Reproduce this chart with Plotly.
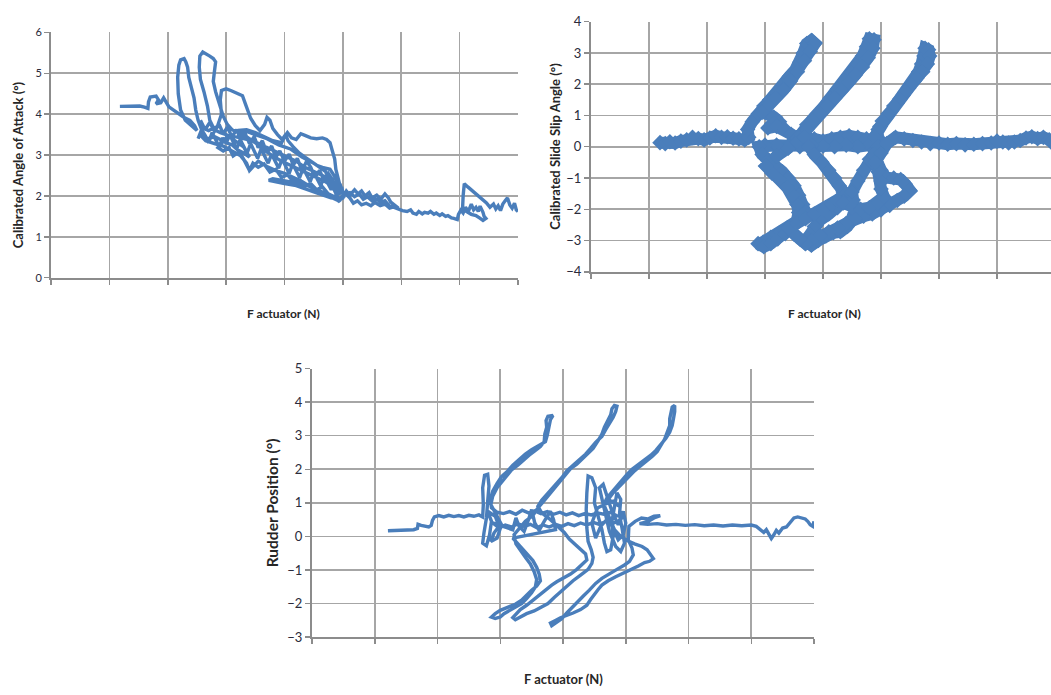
import plotly.graph_objects as go

# ---------------- data (x in grid units of F actuator, no labels shown) ----------------
aoa_pts = [
    (1.18,4.19),(1.30,4.20),(1.42,4.21),(1.52,4.20),(1.60,4.17),(1.66,4.14),(1.67,4.30),(1.70,4.42),(1.80,4.44),(1.84,4.35),
    (1.80,4.25),(1.88,4.28),(1.93,4.40),(1.97,4.30),(2.02,4.18),(2.10,4.10),(2.18,4.02),(2.28,3.92),(2.38,3.85),(2.46,3.72),(2.50,3.60),
    (2.42,3.70),(2.30,3.85),(2.22,4.10),(2.18,4.50),(2.17,4.90),(2.19,5.20),(2.22,5.33),(2.28,5.36),(2.31,5.28),(2.34,5.15),
    (2.36,4.90),(2.40,4.65),(2.45,4.40),(2.48,4.10),(2.52,3.85),(2.58,3.62),(2.62,3.45),(2.70,3.40),(2.80,3.45),(2.90,3.38),
    (3.00,3.30),(3.10,3.25),(3.20,3.12),(3.30,3.05),(3.40,2.95),
    (3.30,3.20),(3.15,3.35),(3.00,3.50),(2.90,3.55),(2.80,3.62),(2.72,3.85),(2.68,4.20),(2.62,4.55),(2.56,4.85),(2.54,5.15),
    (2.55,5.42),(2.60,5.52),(2.66,5.48),(2.72,5.42),(2.78,5.36),(2.82,5.28),(2.80,5.05),(2.78,4.80),(2.82,4.55),(2.88,4.25),
    (2.95,3.95),(3.02,3.75),(3.10,3.62),(3.20,3.55),(3.35,3.45),(3.50,3.30),(3.65,3.12),(3.80,2.98),(3.95,2.85),(4.10,2.75),
    (4.25,2.65),(4.40,2.55),(4.55,2.45),(4.70,2.35),(4.85,2.20),(4.95,2.10),(5.05,2.05),
    (4.90,1.90),(4.75,2.00),(4.60,2.10),(4.45,2.22),(4.30,2.35),(4.15,2.45),(4.00,2.55),(3.85,2.62),(3.70,2.72),(3.55,2.85),
    (3.45,2.70),(3.40,2.62),(3.35,2.80),(3.25,2.98),(3.10,3.10),(2.95,3.22),(2.80,3.28),(2.65,3.35),(2.55,3.50),
    (2.52,3.40),(2.58,3.62),(2.64,3.48),(2.70,3.30),(2.76,3.55),(2.82,3.38),(2.88,3.20),(2.94,3.42),(3.00,3.28),(3.06,3.50),
    (3.12,3.32),(3.18,3.15),(3.24,3.38),(3.30,3.22),(3.36,3.05),(3.42,3.28),(3.48,3.10),(3.54,2.92),(3.60,3.15),(3.66,2.98),
    (3.72,2.80),(3.78,3.02),(3.84,2.85),(3.90,2.68),(3.96,2.90),(4.02,2.72),(4.08,2.55),(4.14,2.78),(4.20,2.62),(4.26,2.45),
    (4.32,2.68),(4.38,2.50),(4.44,2.35),(4.50,2.58),(4.56,2.40),(4.62,2.25),(4.68,2.48),(4.74,2.30),(4.80,2.15),(4.86,2.35),
    (4.92,2.05),(4.98,2.22),(5.02,1.95),
    (4.95,2.30),(4.88,2.12),(4.82,2.40),(4.75,2.55),(4.68,2.38),(4.60,2.62),(4.52,2.45),(4.45,2.70),(4.38,2.85),(4.30,2.62),
    (4.22,2.92),(4.15,2.75),(4.08,3.02),(4.00,2.85),(3.92,3.10),(3.85,2.95),(3.78,3.22),(3.70,3.05),(3.62,3.35),(3.55,3.18),
    (3.48,3.45),(3.40,3.28),(3.32,3.55),(3.25,3.40),(3.18,3.62),(3.10,3.45),(3.02,3.68),(2.95,3.52),(2.88,3.75),(2.80,3.58),
    (2.72,3.80),(2.64,3.62),(2.56,3.85),(2.62,3.65),
    (2.70,3.60),(2.85,3.70),(2.92,4.00),(2.90,4.35),(2.92,4.58),(3.00,4.62),(3.08,4.58),(3.18,4.52),(3.28,4.45),(3.33,4.25),
    (3.38,4.05),(3.42,3.90),(3.50,3.72),(3.58,3.60),(3.66,3.75),(3.70,3.92),(3.75,3.85),(3.80,3.65),(3.88,3.50),(3.96,3.38),
    (4.02,3.50),(4.06,3.35),(4.15,3.20),(4.25,3.05),(4.35,2.95),(4.45,2.85),(4.55,2.75),(4.65,2.70),(4.78,2.65),(4.85,2.50),
    (4.90,2.35),(4.95,2.20),
    (4.80,2.40),(4.65,2.50),(4.50,2.60),(4.35,2.70),(4.20,2.85),(4.05,2.95),(3.90,3.05),(3.75,3.15),(3.60,3.25),(3.45,3.35),
    (3.30,3.40),(3.15,3.45),(3.00,3.42),
    (2.92,3.30),(2.86,3.18),(2.95,3.10),(3.05,3.18),(3.12,2.98),(3.22,3.08),(3.30,2.90),(3.40,2.62),(3.46,2.80),(3.55,2.70),
    (3.65,2.78),(3.75,2.58),(3.85,2.65),(3.95,2.45),(4.05,2.52),(4.15,2.35),(4.25,2.42),(4.35,2.25),(4.45,2.30),(4.55,2.15),
    (4.65,2.22),(4.75,2.05),(4.85,1.98),(4.95,1.85),
    (4.70,2.60),(4.50,2.80),(4.30,2.95),(4.10,3.15),(3.90,3.25),(3.70,3.40),(3.50,3.50),(3.35,3.58),(3.20,3.60),
    (3.35,3.62),(3.50,3.55),(3.65,3.45),(3.80,3.35),(3.95,3.30),(4.00,3.45),(4.05,3.55),(4.12,3.42),(4.20,3.38),
    (4.28,3.52),(4.35,3.48),(4.45,3.42),(4.55,3.40),(4.65,3.42),(4.72,3.38),(4.78,3.30),(4.82,3.10),(4.86,2.90),(4.88,2.65),
    (4.92,2.40),(4.96,2.20),(5.00,2.10),
    (4.80,1.95),(4.60,2.05),(4.40,2.15),(4.20,2.25),(4.00,2.30),(3.85,2.34),(3.73,2.38),(3.80,2.42),(4.00,2.38),(4.20,2.32),
    (4.40,2.25),(4.60,2.12),(4.80,2.00),(4.92,1.88),(5.00,1.95),(5.06,2.12),(5.12,2.02),(5.20,2.15),(5.26,2.05),(5.32,2.12),
    (5.38,2.00),(5.45,2.08),(5.50,1.95),(5.58,2.02),(5.65,1.92),(5.72,2.05),(5.78,1.95),(5.82,1.85),(5.88,1.78),(5.95,1.70),
    (5.88,1.74),(5.80,1.70),(5.72,1.80),(5.64,1.76),(5.55,1.84),(5.48,1.76),(5.40,1.82),(5.32,1.78),(5.25,1.88),(5.18,1.82),
    (5.12,1.95),(5.05,2.05),(5.12,2.08),(5.20,1.98),(5.28,2.05),(5.35,1.92),(5.42,1.98),(5.50,1.88),(5.58,1.92),(5.65,1.85),
    (5.72,1.88),(5.80,1.75),(5.88,1.72),(5.95,1.68),(6.02,1.64),(6.10,1.62),(6.16,1.66),(6.20,1.58),(6.26,1.55),(6.30,1.62),
    (6.36,1.56),(6.40,1.60),(6.46,1.58),(6.50,1.62),(6.56,1.55),(6.60,1.58),(6.66,1.52),(6.70,1.56),(6.76,1.50),(6.80,1.52),
    (6.86,1.46),(6.90,1.45),(6.96,1.42),(6.98,1.55),(7.02,1.65),(7.06,1.58),(7.10,1.72),(7.15,1.62),(7.20,1.80),(7.24,1.66),
    (7.28,1.72),(7.32,1.62),(7.35,1.75),(7.40,1.60),(7.42,1.50),(7.45,1.45),(7.40,1.40),(7.34,1.46),(7.28,1.52),(7.20,1.55),
    (7.14,1.60),(7.10,1.62),(7.05,1.68),(7.06,2.00),(7.08,2.30),(7.14,2.22),(7.20,2.15),(7.26,2.08),(7.30,2.02),(7.36,1.96),
    (7.40,1.92),(7.46,1.83),(7.52,1.72),(7.58,1.80),(7.62,1.68),(7.66,1.76),(7.70,1.64),(7.74,1.80),(7.78,1.88),(7.82,1.95),
    (7.86,1.78),(7.90,1.70),(7.94,1.82),(7.97,1.66),(8.00,1.62),
]

slip_pts = [
    (1.19,0.13),(1.28,0.10),(1.36,0.16),(1.45,0.12),(1.55,0.18),(1.65,0.22),(1.75,0.30),(1.85,0.26),(1.95,0.22),(2.05,0.28),
    (2.15,0.35),(2.25,0.30),(2.35,0.32),(2.45,0.27),(2.55,0.25),(2.65,0.22),(2.72,0.30),
    (2.70,0.55),(2.78,0.80),(2.88,1.05),(2.98,1.30),(3.08,1.50),(3.20,1.72),(3.32,2.00),(3.42,2.25),(3.52,2.45),(3.60,2.70),
    (3.66,3.00),(3.72,3.30),(3.80,3.40),(3.86,3.30),(3.78,3.05),(3.68,2.75),(3.56,2.40),(3.44,2.10),(3.32,1.82),(3.18,1.55),
    (3.05,1.30),(2.95,1.10),(3.15,0.95),(3.25,0.80),(3.15,0.75),(3.05,0.60),(3.20,0.65),(3.35,0.55),(3.45,0.40),(3.55,0.28),
    (3.70,0.20),(3.85,0.25),(4.00,0.18),(4.15,0.25),(4.30,0.30),(4.45,0.35),(4.60,0.30),(4.75,0.25),(4.90,0.20),(5.00,0.15),
    (4.80,0.05),(4.60,0.00),(4.40,0.05),(4.20,0.00),(4.00,0.02),(3.80,0.05),(3.60,0.00),(3.40,0.03),(3.20,0.05),(3.00,0.05),(2.90,0.00),
    (2.95,-0.25),(3.05,-0.45),(3.18,-0.62),(3.30,-0.80),(3.40,-1.00),(3.50,-1.25),(3.58,-1.55),(3.65,-1.85),(3.70,-2.10),(3.62,-2.30),
    (3.50,-2.45),(3.38,-2.60),(3.25,-2.75),(3.10,-2.90),(2.97,-3.05),(2.88,-3.10),(2.98,-3.20),(3.10,-3.10),(3.22,-2.95),(3.35,-2.78),
    (3.48,-2.55),(3.55,-2.35),(3.58,-2.10),(3.55,-1.85),(3.48,-1.55),(3.38,-1.30),(3.25,-1.05),(3.12,-0.85),(3.02,-0.62),
    (3.20,-0.30),(3.40,-0.05),(3.55,0.15),(3.62,0.40),(3.72,0.70),(3.85,0.95),(4.00,1.25),(4.12,1.55),(4.25,1.85),(4.38,2.12),
    (4.50,2.38),(4.60,2.62),(4.68,2.90),(4.75,3.20),(4.80,3.45),(4.88,3.42),(4.86,3.15),(4.78,2.85),(4.68,2.55),(4.56,2.30),
    (4.44,2.05),(4.32,1.80),(4.20,1.55),(4.08,1.30),(3.95,1.05),(3.82,0.82),(3.72,0.55),(3.68,0.30),
    (3.75,0.00),(3.85,-0.25),(3.98,-0.50),(4.10,-0.75),(4.20,-1.00),(4.28,-1.25),(4.35,-1.45),(4.40,-1.50),(4.35,-1.75),(4.25,-1.95),
    (4.10,-2.15),(3.95,-2.35),(3.85,-2.55),(3.78,-2.80),(3.72,-3.05),(3.80,-3.15),(3.92,-3.00),(4.05,-2.85),(4.18,-2.75),(4.30,-2.72),
    (4.42,-2.55),(4.50,-2.30),(4.55,-2.00),(4.52,-1.70),(4.50,-1.45),
    (4.60,-1.10),(4.70,-0.75),(4.80,-0.40),(4.90,-0.10),(5.00,0.15),(4.92,0.40),(4.98,0.65),(5.08,0.90),(5.18,1.15),(5.28,1.40),
    (5.38,1.65),(5.48,1.88),(5.58,2.12),(5.65,2.40),(5.70,2.65),(5.74,2.90),(5.76,3.15),(5.82,3.10),(5.84,2.90),(5.80,2.65),
    (5.72,2.40),(5.62,2.20),(5.52,1.98),(5.42,1.75),(5.32,1.52),(5.22,1.30),(5.12,1.05),(5.02,0.82),(4.95,0.55),(4.90,0.30),
    (4.95,0.00),(4.88,-0.25),(4.92,-0.50),(5.00,-0.75),(5.08,-0.98),(5.22,-1.00),(5.34,-1.05),(5.42,-1.20),(5.50,-1.40),(5.40,-1.58),
    (5.28,-1.72),(5.15,-1.88),(5.00,-2.02),(4.85,-2.15),(4.70,-2.22),(4.55,-2.30),(4.40,-2.45),(4.25,-2.60),(4.10,-2.72),(3.95,-2.85),
    (3.80,-3.00),(3.70,-3.10),(3.60,-2.95),(3.50,-2.80),(3.40,-2.60),(3.55,-2.45),(3.70,-2.30),(3.85,-2.15),(4.00,-2.00),(4.15,-1.85),
    (4.25,-1.70),(4.35,-1.80),(4.50,-1.95),(4.65,-2.00),(4.80,-1.95),(4.95,-1.80),(5.05,-1.60),(5.00,-1.35),(5.00,-1.10),(4.95,-0.80),
    (4.90,-0.50),(5.00,-0.20),
    (5.10,0.10),(5.25,0.30),(5.40,0.25),(5.55,0.20),(5.70,0.15),(5.85,0.10),(6.00,0.12),(6.15,0.08),(6.30,0.10),(6.45,0.06),
    (6.60,0.08),(6.75,0.10),(6.90,0.12),(7.00,0.18),(7.10,0.15),(7.20,0.12),(7.30,0.15),(7.40,0.20),(7.50,0.28),(7.60,0.32),
    (7.70,0.26),(7.80,0.30),(7.90,0.22),(7.93,0.15),
]

rudder_pts = [
    (1.21,0.17),(1.35,0.18),(1.50,0.19),(1.62,0.20),(1.68,0.24),(1.69,0.36),(1.74,0.33),(1.80,0.30),(1.86,0.28),(1.90,0.33),
    (1.92,0.48),(1.95,0.58),(2.02,0.62),(2.10,0.58),(2.18,0.63),(2.26,0.59),(2.34,0.62),(2.42,0.58),(2.50,0.63),(2.58,0.60),
    (2.66,0.64),(2.72,0.58),
    (2.73,0.95),(2.72,1.45),(2.75,1.82),(2.80,1.85),(2.82,1.50),(2.80,1.05),(2.78,0.55),(2.74,0.10),(2.72,-0.20),(2.78,-0.28),
    (2.83,0.05),(2.86,0.45),(2.80,0.75),(2.92,0.60),(2.98,0.30),(2.90,0.10),(2.85,-0.15),(2.95,-0.05),(3.02,0.35),
    (2.85,0.95),(2.88,1.20),(2.95,1.45),(3.02,1.62),(3.10,1.80),(3.18,1.98),(3.28,2.12),(3.38,2.30),(3.46,2.42),(3.55,2.55),
    (3.64,2.68),(3.70,2.82),(3.71,3.05),(3.74,3.25),(3.73,3.45),(3.76,3.58),(3.84,3.60),(3.80,3.48),(3.78,3.25),(3.75,3.02),
    (3.72,2.82),(3.62,2.72),(3.50,2.58),(3.40,2.45),(3.30,2.30),(3.20,2.12),(3.12,1.95),(3.02,1.78),(2.95,1.58),(2.88,1.35),
    (2.84,1.10),(2.86,0.85),
    (2.95,0.72),(3.05,0.68),(3.15,0.74),(3.25,0.66),(3.35,0.78),(3.45,0.70),(3.55,0.76),(3.65,0.68),(3.75,0.74),(3.85,0.66),
    (3.95,0.72),(4.05,0.64),(4.15,0.70),(4.25,0.62),(4.35,0.68),(4.45,0.64),(4.55,0.70),(4.65,0.66),(4.75,0.72),(4.85,0.62),(4.97,0.60),
    (4.88,0.45),(4.78,0.38),(4.68,0.44),(4.58,0.36),(4.48,0.42),(4.38,0.34),(4.28,0.40),(4.18,0.32),(4.08,0.38),(3.98,0.30),
    (3.88,0.36),(3.78,0.28),(3.68,0.34),(3.58,0.26),(3.48,0.36),(3.38,0.30),(3.28,0.38),(3.18,0.28),(3.08,0.34),(2.98,0.26),(2.88,0.40),
    (3.20,0.20),(3.25,0.55),(3.30,0.30),(3.38,0.15),(3.45,0.50),(3.50,0.80),(3.55,0.40),(3.62,0.18),(3.70,0.45),(3.80,0.75),
    (3.85,0.50),(3.88,0.20),
    (3.20,-0.05),(3.28,-0.22),(3.36,-0.40),(3.44,-0.55),(3.52,-0.72),(3.58,-0.92),(3.62,-1.12),(3.64,-1.32),(3.58,-1.48),(3.50,-1.60),
    (3.42,-1.75),(3.34,-1.90),(3.24,-2.02),(3.12,-2.12),(3.00,-2.20),(2.92,-2.30),(2.86,-2.40),(2.92,-2.44),(3.00,-2.40),(3.06,-2.30),
    (3.14,-2.22),(3.24,-2.12),(3.34,-2.00),(3.42,-1.85),(3.50,-1.68),(3.56,-1.50),(3.58,-1.28),(3.54,-1.05),(3.48,-0.82),(3.40,-0.62),
    (3.32,-0.42),(3.25,-0.22),(3.22,0.05),
    (3.40,0.45),(3.52,0.62),(3.60,0.85),(3.68,1.02),(3.76,1.20),(3.82,1.35),(3.90,1.52),(3.96,1.68),(4.04,1.85),(4.12,2.02),
    (4.22,2.15),(4.32,2.32),(4.40,2.48),(4.48,2.62),(4.56,2.85),(4.62,3.05),(4.66,3.25),(4.72,3.45),(4.76,3.62),(4.78,3.80),
    (4.82,3.90),(4.86,3.88),(4.84,3.72),(4.80,3.55),(4.74,3.38),(4.68,3.18),(4.62,2.98),(4.52,2.80),(4.44,2.62),(4.36,2.45),
    (4.26,2.28),(4.16,2.10),(4.06,1.95),(3.98,1.75),(3.90,1.58),(3.82,1.42),(3.74,1.25),(3.66,1.08),(3.60,0.90),(3.66,0.70),
    (3.80,0.50),(3.92,0.30),(4.02,0.12),(4.10,-0.08),(4.18,-0.22),(4.28,-0.38),(4.36,-0.52),(4.38,-0.70),(4.30,-0.85),(4.22,-0.98),
    (4.12,-1.12),(4.02,-1.22),(3.90,-1.35),(3.82,-1.45),(3.72,-1.60),(3.62,-1.75),(3.52,-1.92),(3.42,-2.05),(3.32,-2.18),(3.24,-2.32),
    (3.20,-2.42),(3.24,-2.48),(3.32,-2.40),(3.42,-2.30),(3.54,-2.22),(3.64,-2.12),(3.76,-2.00),(3.86,-1.82),(3.96,-1.65),(4.06,-1.48),
    (4.16,-1.32),(4.28,-1.15),(4.40,-0.98),(4.46,-0.80),(4.48,-0.62),(4.45,-0.40),(4.40,-0.15),
    (4.38,0.25),(4.37,0.80),(4.38,1.30),(4.40,1.80),(4.46,1.75),(4.52,1.45),(4.50,1.00),(4.56,0.60),(4.62,0.20),(4.66,-0.20),
    (4.70,-0.45),(4.76,-0.40),(4.80,0.00),(4.78,0.45),(4.82,0.90),(4.86,1.30),(4.92,1.10),(4.90,0.65),(4.94,0.25),(4.98,-0.20),
    (4.92,-0.45),(4.84,-0.30),(4.74,0.15),(4.68,0.65),(4.62,1.05),(4.58,1.45),(4.64,1.55),(4.70,1.20),(4.78,0.75),(4.88,0.35),
    (4.96,0.75),(5.00,0.40),(4.96,0.05),(4.88,-0.10),(4.80,0.25),(4.72,0.55),(4.60,0.30),(4.52,-0.05),(4.46,0.40),(4.55,0.85),
    (4.66,0.95),(4.80,1.05),(4.90,0.90),
    (4.72,1.10),(4.80,1.30),(4.88,1.45),(4.96,1.62),(5.04,1.78),(5.14,1.95),(5.22,2.08),(5.32,2.22),(5.42,2.38),(5.50,2.52),
    (5.56,2.70),(5.62,2.90),(5.66,3.10),(5.70,3.30),(5.70,3.50),(5.72,3.70),(5.74,3.85),(5.78,3.90),(5.78,3.72),(5.76,3.50),
    (5.74,3.30),(5.70,3.10),(5.64,2.92),(5.56,2.74),(5.48,2.56),(5.40,2.42),(5.30,2.28),(5.20,2.14),(5.10,2.00),(5.02,1.85),
    (4.94,1.68),(4.86,1.50),(4.78,1.32),(4.70,1.15),(4.65,0.95),
    (4.82,0.20),(4.92,0.00),(5.02,-0.12),(5.14,-0.22),(5.26,-0.30),(5.34,-0.40),(5.40,-0.55),(5.44,-0.66),(5.38,-0.74),(5.30,-0.78),
    (5.20,-0.88),(5.08,-0.98),(4.96,-1.08),(4.84,-1.20),(4.72,-1.32),(4.62,-1.45),(4.56,-1.58),(4.50,-1.72),(4.44,-1.88),(4.38,-2.05),
    (4.28,-2.18),(4.16,-2.28),(4.06,-2.34),(3.96,-2.42),(3.88,-2.50),(3.80,-2.58),(3.82,-2.66),(3.90,-2.56),(3.98,-2.45),(4.06,-2.28),
    (4.14,-2.12),(4.24,-1.95),(4.32,-1.78),(4.42,-1.60),(4.52,-1.40),(4.62,-1.25),(4.74,-1.10),(4.86,-0.98),(4.98,-0.85),(5.06,-0.74),
    (5.12,-0.55),(5.10,-0.35),(5.04,-0.10),
    (5.05,0.30),(5.15,0.45),(5.25,0.55),(5.35,0.52),(5.45,0.60),(5.55,0.62),(5.45,0.55),(5.35,0.44),(5.22,0.38),(5.35,0.36),
    (5.50,0.38),(5.65,0.34),(5.80,0.36),(5.95,0.33),(6.10,0.35),(6.25,0.32),(6.40,0.34),(6.55,0.31),(6.70,0.34),(6.85,0.32),
    (7.00,0.34),(7.08,0.30),(7.14,0.22),(7.20,0.12),(7.24,0.20),(7.28,0.05),(7.32,-0.06),(7.36,0.05),(7.40,0.18),(7.44,0.10),
    (7.50,0.25),(7.56,0.28),(7.62,0.42),(7.68,0.55),(7.74,0.58),(7.80,0.55),(7.86,0.52),(7.90,0.45),(7.94,0.35),(7.98,0.30),(8.00,0.45),
]

y_titles = ["Calibrated Angle of Attack (°)", "Calibrated Slide Slip Angle (°)", "Rudder Position (°)"]
x_title = "F actuator (N)"

# ---------------- layout helpers ----------------
W, H = 1051, 695
BLUE = "#4A7EBB"
FONT = "Lato, 'Liberation Sans', sans-serif"

def fx(p):
    return p / W

def fy(p):
    return 1 - p / H

fig = go.Figure()

def add_line(pts, xa, ya, width, marker=False):
    xs = [p[0] for p in pts]
    ys = [p[1] for p in pts]
    kw = dict(mode="lines")
    if marker:
        kw = dict(mode="lines+markers", marker=dict(symbol="diamond", size=12, color=BLUE))
    fig.add_trace(go.Scatter(x=xs, y=ys, xaxis=xa, yaxis=ya,
                             line=dict(color=BLUE, width=width, shape="linear"),
                             hoverinfo="skip", showlegend=False, **kw))

add_line(aoa_pts, "x", "y", 3.4)
add_line(slip_pts, "x2", "y2", 12, marker=True)
add_line(rudder_pts, "x3", "y3", 3.4)

common = dict(showline=True, linecolor="#8C8C8C", linewidth=2, showgrid=True, gridcolor="#A6A6A6",
              gridwidth=1.6, ticks="outside", ticklen=5, tickcolor="#8C8C8C", tickwidth=1.5,
              zeroline=False, dtick=1, tick0=0)

fig.update_layout(
    width=W, height=H, margin=dict(l=0, r=0, t=0, b=0),
    paper_bgcolor="white", plot_bgcolor="white",
    font=dict(family=FONT, color="#2B2B3B"),
    xaxis=dict(domain=[fx(51), fx(518)], range=[0, 8], showticklabels=False, anchor="y", **common),
    yaxis=dict(domain=[fy(276), fy(25)], range=[0, 6], anchor="x", tickfont=dict(size=11), **common),
    xaxis2=dict(domain=[fx(591), 1.0], range=[0, 8 * 460 / 464], showticklabels=False, anchor="y2", **common),
    yaxis2=dict(domain=[fy(270), fy(14)], range=[-4, 4], anchor="x2", tickfont=dict(size=13), **common),
    xaxis3=dict(domain=[fx(312), fx(814)], range=[0, 8], showticklabels=False, anchor="y3", **common),
    yaxis3=dict(domain=[fy(644), fy(369)], range=[-3, 5], anchor="x3", tickfont=dict(size=13), **common),
)

ann = [
    dict(text=y_titles[0], x=fx(18), y=fy(161), size=13, angle=-90),
    dict(text=y_titles[1], x=fx(555), y=fy(142), size=13, angle=-90),
    dict(text=y_titles[2], x=fx(272), y=fy(507), size=15.5, angle=-90),
    dict(text=x_title, x=fx(283), y=fy(313), size=12, angle=0),
    dict(text=x_title, x=fx(824), y=fy(313), size=12, angle=0),
    dict(text=x_title, x=fx(563), y=fy(687), size=13, angle=0),
]
for a in ann:
    fig.add_annotation(text="<b>%s</b>" % a["text"], x=a["x"], y=a["y"], xref="paper", yref="paper",
                       showarrow=False, textangle=a["angle"], xanchor="center", yanchor="middle",
                       font=dict(family=FONT, size=a["size"], color="#262626"))

fig.write_html("out.html", config={"displayModeBar": False, "staticPlot": True},
               post_script="document.body.style.margin='0';document.body.style.overflow='hidden';")
